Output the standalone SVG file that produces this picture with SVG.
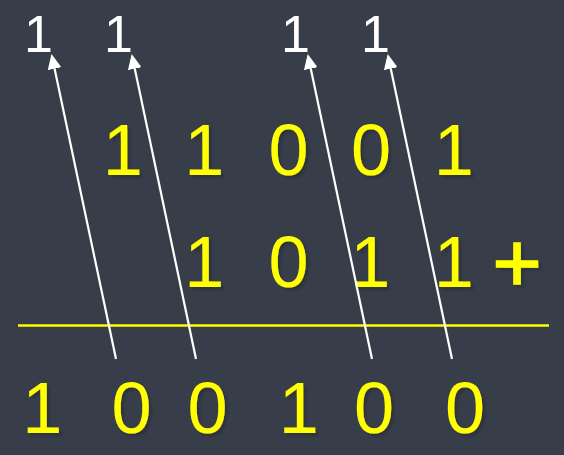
<svg xmlns="http://www.w3.org/2000/svg" width="564" height="455" viewBox="0 0 564 455">
  <style>
    .bg { fill: #383e49; }
    .carry { font-family: "Liberation Sans", Arial, sans-serif; font-size: 52px; fill: #ffffff; text-anchor: middle; }
    .dig { font-family: "Liberation Sans", Arial, sans-serif; font-size: 72px; fill: #ffff00; text-anchor: middle; }
    .plus { font-size: 84px; stroke: #ffff00; stroke-width: 1.6; }
    .arrow { stroke: #ffffff; stroke-width: 2.2; fill: none; marker-end: url(#head); }
    .rule { stroke: #ffff00; stroke-width: 2.6; }
  </style>
  <defs>
    <marker id="head" viewBox="0 -7 15 14" markerWidth="15" markerHeight="14" refX="0" refY="0" markerUnits="userSpaceOnUse" orient="auto">
      <path d="M0,-7 L15,0 L0,7 z" fill="#ffffff"/>
    </marker>
    <filter id="sh" x="-20%" y="-20%" width="140%" height="140%">
      <feDropShadow dx="3" dy="3" stdDeviation="1" flood-color="#2a2f38" flood-opacity="0.8"/>
    </filter>
  </defs>
  <rect class="bg" x="0" y="0" width="564" height="455"/>

  <g id="carries">
    <text class="carry" x="38.5" y="52">1</text>
    <text class="carry" x="118.5" y="52">1</text>
    <text class="carry" x="295.5" y="52">1</text>
    <text class="carry" x="375.5" y="52">1</text>
  </g>

  <g id="addend1" filter="url(#sh)">
    <text class="dig" x="122.7" y="175">1</text>
    <text class="dig" x="204.2" y="175">1</text>
    <text class="dig" x="288.5" y="175">0</text>
    <text class="dig" x="371" y="175">0</text>
    <text class="dig" x="453.7" y="175">1</text>
  </g>

  <g id="addend2" filter="url(#sh)">
    <text class="dig" x="204.2" y="287">1</text>
    <text class="dig" x="288.5" y="287">0</text>
    <text class="dig" x="370.2" y="287">1</text>
    <text class="dig" x="453.7" y="287">1</text>
    <text class="dig plus" x="517" y="291">+</text>
  </g>

  <g id="sumline">
    <line class="rule" x1="18" y1="325.5" x2="549" y2="325.5"/>
  </g>

  <g id="result" filter="url(#sh)">
    <text class="dig" x="42.2" y="433">1</text>
    <text class="dig" x="131.6" y="433">0</text>
    <text class="dig" x="207.5" y="433">0</text>
    <text class="dig" x="298.7" y="433">1</text>
    <text class="dig" x="374" y="433">0</text>
    <text class="dig" x="465" y="433">0</text>
  </g>

  <g id="connectors">
    <line class="arrow" x1="116" y1="359" x2="54.6" y2="68.7"/>
    <line class="arrow" x1="196" y1="359" x2="134.8" y2="68.7"/>
    <line class="arrow" x1="372" y1="359" x2="310.8" y2="68.7"/>
    <line class="arrow" x1="452" y1="359" x2="390.8" y2="68.7"/>
  </g>
</svg>
